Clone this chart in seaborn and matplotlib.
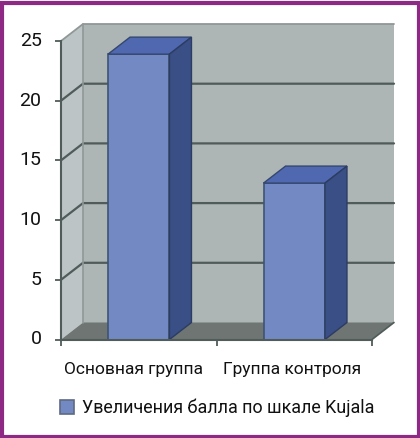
import matplotlib
matplotlib.use("Agg")
import matplotlib.pyplot as plt
from matplotlib.patches import Polygon, Rectangle
from matplotlib.transforms import ScaledTranslation
import seaborn as sns

groups = ["Основная группа", "Группа контроля"]
values = [23.9, 13.1]
series_name = "Увеличения балла по шкале Kujala"
y_ticks = [0, 5, 10, 15, 20, 25]

W, H = 420, 438
sns.set_theme(style="white")
plt.rcParams["font.family"] = ["Roboto", "Liberation Sans", "DejaVu Sans"]

fig = plt.figure(figsize=(W / 100, H / 100), dpi=100)
ax = fig.add_axes([61 / W, 1 - 339.5 / H, 311 / W, 298.5 / H])

# front faces of the bars
sns.barplot(x=groups, y=values, color="#7389c4", width=0.395, saturation=1,
            edgecolor="#3f5472", linewidth=1.2, label=series_name, ax=ax, zorder=5)
ax.set_xlim(-0.5, 1.5)
ax.set_ylim(0, 25)

# depth of the fake 3d box, in data units
dx = 22 / 155.5
dy = 17 / 11.94
x0, x1 = ax.get_xlim()
y0, y1 = ax.get_ylim()


def face(points, color, edge="none", z=1, lw=0):
    ax.add_patch(Polygon(points, closed=True, facecolor=color, edgecolor=edge,
                         linewidth=lw, zorder=z, clip_on=False))


# walls and floor
face([(x0 + dx, y0 + dy), (x1 + dx, y0 + dy), (x1 + dx, y1 + dy), (x0 + dx, y1 + dy)], "#adb6b4")
face([(x0, y0), (x0 + dx, y0 + dy), (x0 + dx, y1 + dy), (x0, y1)], "#bcc4c5")
face([(x0, y0), (x1, y0), (x1 + dx, y0 + dy), (x0 + dx, y0 + dy)], "#6e7572", z=2)

# grid lines running along the left wall and the back wall
for t in y_ticks[1:-1]:
    ax.plot([x0, x0 + dx, x1 + dx], [t, t + dy, t + dy], color="#4f5c5a", lw=1.6,
            zorder=3, clip_on=False, solid_joinstyle="miter")
ax.plot([x0, x0 + dx, x1 + dx], [y1, y1 + dy, y1 + dy], color="#8f9896", lw=1.3,
        zorder=3, clip_on=False)
ax.plot([x0 + dx, x0 + dx], [y0 + dy, y1 + dy], color="#8f9896", lw=1.2, zorder=3, clip_on=False)
ax.plot([x1, x1 + dx], [y0, y0 + dy], color="#4f5c5a", lw=1.2, zorder=3, clip_on=False)

# top and side faces of each bar, taken from the bars seaborn drew
for bar in ax.patches[:len(values)]:
    left = bar.get_x()
    right = left + bar.get_width()
    top = bar.get_height()
    face([(left, top), (right, top), (right + dx, top + dy), (left + dx, top + dy)],
         "#4f68b0", "#34476f", 5, 1.0)
    face([(right, 0), (right + dx, dy), (right + dx, top + dy), (right, top)],
         "#394f85", "#2c3c62", 5, 1.0)

ax.set_yticks(y_ticks)
ax.set_xticks([-0.5, 0.5, 1.5])
ax.set_xticks([-0.034, 0.989], minor=True)
ax.set_xticklabels([])
ax.set_xticklabels(groups, minor=True)
ax.tick_params(axis="y", length=4, width=1.3, color="#4f5c5a", labelsize=14, pad=10,
               labelcolor="#111111", left=True)
ax.tick_params(axis="x", which="major", length=4, width=1.3, color="#4f5c5a", bottom=True)
ax.tick_params(axis="x", which="minor", length=0, labelsize=12.5, pad=16, labelcolor="#111111")
for side in ["top", "right"]:
    ax.spines[side].set_visible(False)
for side in ["left", "bottom"]:
    ax.spines[side].set_color("#4f5c5a")
    ax.spines[side].set_linewidth(1.5)
    ax.spines[side].set_zorder(6)

# the numbers sit a little above their ticks in the reference
for label in ax.get_yticklabels():
    label.set_transform(label.get_transform() + ScaledTranslation(0, 2 / 100, fig.dpi_scale_trans))

leg = ax.legend(loc="center", bbox_to_anchor=(217 / W, 1 - 408 / H),
                bbox_transform=fig.transFigure, frameon=False, fontsize=12.9,
                labelcolor="#111111", handlelength=0.8, handleheight=0.8,
                handletextpad=0.45, borderpad=0)
for h in leg.get_patches():
    h.set_edgecolor("#5d6a80")

# magenta border around the picture
fig.add_artist(Rectangle((1.5 / W, 1.5 / H), (W - 3) / W, (H - 4) / H, transform=fig.transFigure,
                         fill=False, edgecolor="#8e2a85", linewidth=3))

fig.savefig("out.png", dpi=100)
